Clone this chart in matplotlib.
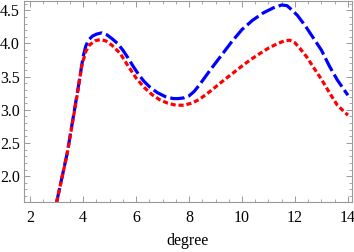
import matplotlib
matplotlib.use("Agg")
import matplotlib.pyplot as plt
from matplotlib.ticker import MultipleLocator, FormatStrFormatter

# values
blue_x = [3.0, 3.4, 3.8, 4.0, 4.1, 4.2, 4.35, 4.5, 4.7, 4.9, 5.1, 5.3, 5.5,
          5.7, 5.9, 6.1, 6.3, 6.5, 6.8, 7.1, 7.4, 7.6, 7.8, 8.0, 8.2, 8.4,
          8.6, 8.8, 9.2, 9.6, 10.0, 10.4, 10.8, 11.2, 11.5, 11.7, 11.9, 12.1,
          12.4, 12.7, 13.0, 13.3, 13.6, 14.0]
blue_y = [1.61, 2.35, 3.30, 3.80, 3.96, 4.05, 4.11, 4.14, 4.16, 4.13, 4.07,
          4.00, 3.90, 3.78, 3.65, 3.53, 3.43, 3.35, 3.26, 3.20, 3.17, 3.17,
          3.18, 3.21, 3.28, 3.38, 3.49, 3.60, 3.81, 4.02, 4.21, 4.35, 4.46,
          4.54, 4.58, 4.57, 4.50, 4.42, 4.26, 4.08, 3.90, 3.66, 3.45, 3.22]
red_x = [3.0, 3.4, 3.8, 3.95, 4.1, 4.25, 4.45, 4.65, 4.85, 5.1, 5.4, 5.7,
         6.0, 6.3, 6.6, 6.9, 7.2, 7.5, 7.8, 8.1, 8.4, 8.8, 9.2, 9.55, 10.0,
         10.3, 10.68, 11.0, 11.3, 11.6, 11.8, 12.0, 12.2, 12.44, 12.7, 13.0,
         13.3, 13.6, 14.0]
red_y = [1.61, 2.34, 3.28, 3.67, 3.88, 3.98, 4.04, 4.06, 4.04, 3.97, 3.85,
         3.66, 3.48, 3.34, 3.23, 3.15, 3.10, 3.07, 3.07, 3.10, 3.16, 3.28,
         3.41, 3.52, 3.66, 3.75, 3.85, 3.93, 3.99, 4.04, 4.05, 4.01, 3.92,
         3.80, 3.64, 3.46, 3.26, 3.07, 2.92]

plt.rcParams["font.family"] = "Liberation Serif"
fig = plt.figure(figsize=(3.54, 2.52), dpi=100)
ax = fig.add_axes([0.068, 0.198, 0.926, 0.798])

ax.plot(blue_x, blue_y, color="#0000ff", lw=2.3, dashes=(4.5, 1.3))
ax.plot(red_x, red_y, color="#ff0000", lw=2.3, dashes=(1.6, 0.9))

ax.set_xlim(1.77, 14.15)
ax.set_ylim(1.61, 4.64)
ax.xaxis.set_major_locator(MultipleLocator(2))
ax.xaxis.set_minor_locator(MultipleLocator(0.5))
ax.yaxis.set_major_locator(MultipleLocator(0.5))
ax.yaxis.set_minor_locator(MultipleLocator(0.1))
ax.yaxis.set_major_formatter(FormatStrFormatter("%.1f"))

for s in ax.spines.values():
    s.set_color("#999999")
    s.set_linewidth(0.8)
ax.tick_params(which="both", direction="in", top=True, right=True,
               color="#999999", labelsize=11.5)
ax.tick_params(axis="x", pad=6)
ax.tick_params(axis="y", pad=3)
ax.tick_params(which="major", length=4, width=0.7)
ax.tick_params(which="minor", length=2, width=0.6)

ax.set_xlabel("degree", fontsize=11.5, labelpad=5)

fig.savefig("out.png", dpi=100)
